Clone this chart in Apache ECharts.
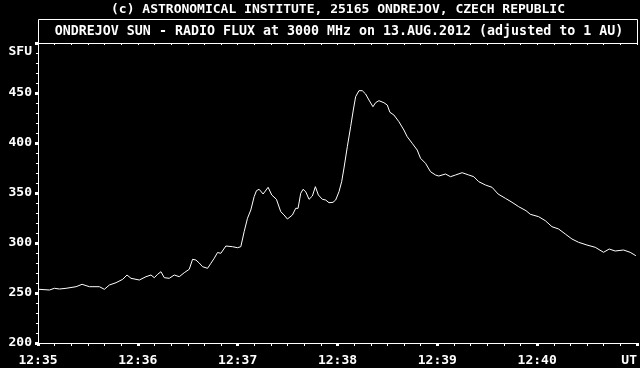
<!DOCTYPE html>
<html><head><meta charset="utf-8">
<script src="https://cdn.jsdelivr.net/npm/echarts@6/dist/echarts.min.js"></script>
<style>html,body{margin:0;padding:0;background:#000}#c{width:640px;height:368px}</style>
</head><body><div id="c"></div>
<script>
const titleTop = '(c) ASTRONOMICAL INSTITUTE, 25165 ONDREJOV, CZECH REPUBLIC';
const titleMain = 'ONDREJOV SUN - RADIO FLUX at 3000 MHz on 13.AUG.2012 (adjusted to 1 AU)';
const yUnit = 'SFU';
const xTickLabels = ['12:35','12:36','12:37','12:38','12:39','12:40','UT'];
const yTickValues = [200,250,300,350,400,450];
// seconds after 12:35 UT
const timeSec = [0.5,6.9,9.9,12.9,16.9,22.9,26.5,30.9,36.9,39.9,
42.9,46.9,50.9,53.5,55.9,60.9,64.9,67.9,69.9,71.9,
73.9,75.9,78.9,81.9,84.9,87.9,90.9,92.9,94.9,96.9,
98.9,101.9,103.9,105.9,107.9,109.9,112.9,116.9,119.9,121.9,
123.9,125.9,127.9,129.9,131.3,132.9,135.3,138.3,140.5,143.3,
145.9,147.9,149.9,152.9,154.9,156.3,157.9,159.3,160.9,162.9,
164.9,166.7,168.5,170.9,172.9,174.9,177.3,178.9,180.9,182.5,
183.9,185.9,187.9,189.5,190.9,192.9,194.9,196.9,198.9,201.3,
202.9,204.9,207.9,209.9,211.5,213.9,216.9,219.9,221.9,224.9,
227.9,229.9,232.9,235.9,238.9,240.9,244.9,247.9,250.9,254.9,
258.9,261.9,264.9,268.9,272.9,276.5,280.9,284.9,288.9,293.3,
295.9,300.9,304.9,308.9,312.9,316.9,320.9,324.9,329.9,334.9,
339.9,343.3,346.9,351.9,355.9,359.3];
const fluxSFU = [253.7,253,254.7,254,254.7,256.3,258.7,256.3,256.3,253.7,
258,260.3,263.7,268,264.7,263,266.3,268,265.3,268.7,
271.3,265.3,264.7,268,266.3,270.3,273.7,283.7,283,280,
276.3,274.7,279.7,284.7,290.5,289.7,297,296.3,295.3,296.3,
311.3,324.7,333,346.3,352.3,353.7,349,355.7,348,343.7,
331.3,328,324,328,334.7,334.7,349.7,353.7,351.3,343.7,
347,356.3,348,343.7,343,340.3,340.7,343,351.3,361.3,
375,396.3,416.3,433,446.3,452.3,452.3,449,443,436.3,
440.3,442.3,440.3,438,430.7,428,421.3,413,406.3,399.7,
393,384.7,379.7,371.3,368,367,369,366.3,368,370.3,
368,366.3,361.3,358,355.7,349,344.7,340.7,336.3,332.3,
328.7,326.3,322.3,316.3,314,309,304,300.7,298,295.7,
290.7,294,292,293,290.7,287.3];

const FONT = 'DejaVu Sans Mono';
const W = '#ffffff';
const data = timeSec.map((t, i) => [t, fluxSFU[i]]);
const chart = echarts.init(document.getElementById('c'), null, {renderer: 'canvas'});
chart.setOption({
  backgroundColor: '#000',
  animation: false,
  grid: {left: 38, right: 2, top: 43, bottom: 25, containLabel: false},
  graphic: [
    {type: 'rect', shape: {x: 38.5, y: 19.5, width: 599, height: 24}, style: {fill: 'none', stroke: W, lineWidth: 1}, silent: true},
    {type: 'text', x: 338, y: 9.5, style: {text: titleTop, fill: W, font: 'bold 13px "' + FONT + '"', textAlign: 'center', textVerticalAlign: 'middle'}},
    {type: 'text', x: 339, y: 31.5, style: {text: titleMain, fill: W, font: 'bold 13.3px "' + FONT + '"', textAlign: 'center', textVerticalAlign: 'middle'}},
    {type: 'text', x: 32, y: 52, style: {text: yUnit, fill: W, font: 'bold 13px "' + FONT + '"', textAlign: 'right', textVerticalAlign: 'middle'}}
  ],
  xAxis: [
    {type: 'value', min: 0, max: 360, interval: 60, position: 'bottom',
     axisLine: {show: true, lineStyle: {color: W, width: 1}},
     axisTick: {show: true, length: 3, lineStyle: {color: W, width: 3}},
     minorTick: {show: true, splitNumber: 6, length: 3, lineStyle: {color: W, width: 1}},
     splitLine: {show: false},
     axisLabel: {color: W, fontFamily: FONT, fontWeight: 'bold', fontSize: 13, margin: 11,
       alignMaxLabel: 'right',
       formatter: v => xTickLabels[Math.round(v / 60)] || ''}},
    {type: 'value', min: 0, max: 360, interval: 10, position: 'top',
     axisLine: {show: true, lineStyle: {color: W, width: 1}},
     axisTick: {show: true, inside: true, length: 2, lineStyle: {color: W, width: 1}},
     splitLine: {show: false}, axisLabel: {show: false}}
  ],
  yAxis: [
    {type: 'value', min: 200, max: 500, interval: 50, position: 'left',
     axisLine: {show: true, lineStyle: {color: W, width: 1}},
     axisTick: {show: true, length: 3, lineStyle: {color: W, width: 3}},
     minorTick: {show: true, splitNumber: 5, length: 2, lineStyle: {color: W, width: 1}},
     splitLine: {show: false},
     axisLabel: {color: W, fontFamily: FONT, fontWeight: 'bold', fontSize: 13, margin: 6,
       formatter: v => yTickValues.indexOf(v) >= 0 ? String(v) : ''}},
    {type: 'value', min: 200, max: 500, position: 'right',
     axisLine: {show: true, lineStyle: {color: W, width: 1}},
     axisTick: {show: false}, splitLine: {show: false}, axisLabel: {show: false}}
  ],
  series: [{
    type: 'line', xAxisIndex: 0, yAxisIndex: 0, data: data,
    showSymbol: false, symbol: 'none', smooth: false,
    lineStyle: {color: W, width: 1}
  }]
});
</script>
</body></html>
